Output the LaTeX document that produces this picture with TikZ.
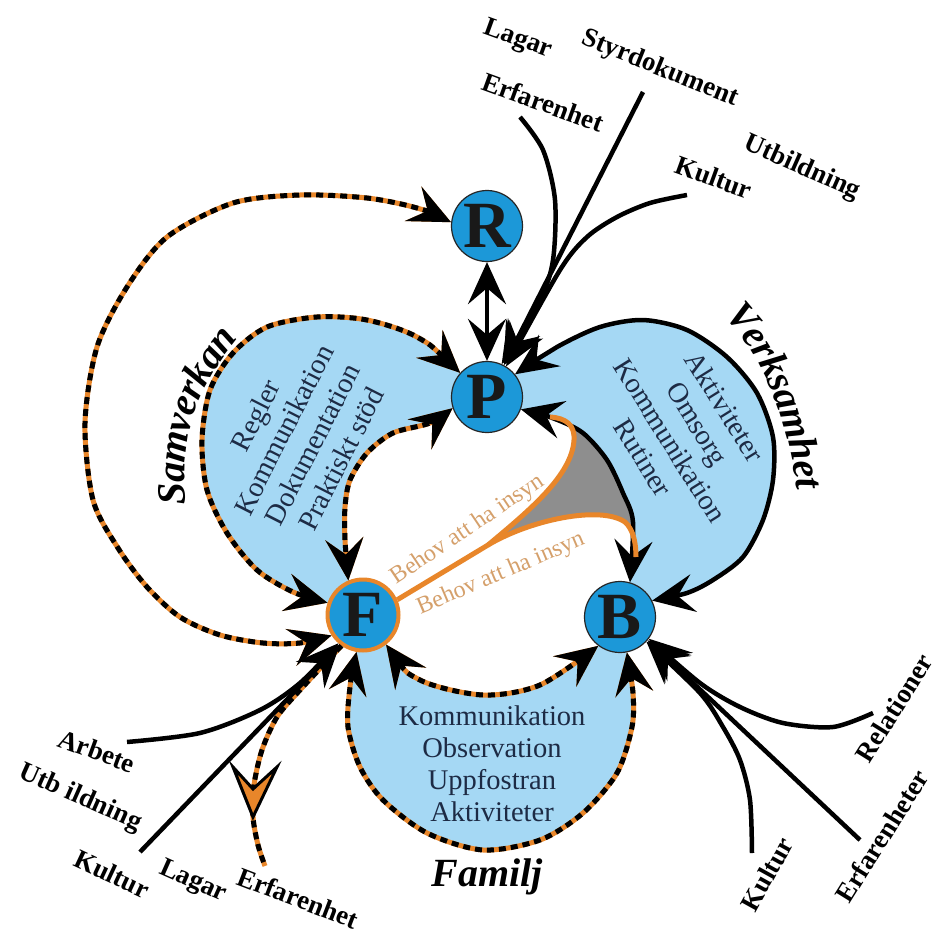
\documentclass[tikz,border=0pt]{standalone}
\usepackage{fontspec}
\setmainfont{Liberation Serif}
\usetikzlibrary{arrows.meta,decorations.text}
\pgfdeclarelayer{bg}
\pgfsetlayers{bg,main}
\definecolor{nodeblue}{HTML}{1C98D8}
\definecolor{blobblue}{HTML}{A5D8F4}
\definecolor{dorange}{HTML}{E8862A}
\definecolor{itemcol}{HTML}{1D2B45}
\definecolor{behovcol}{HTML}{D5A06B}
\definecolor{greyfill}{HTML}{8E8E8E}
\tikzset{
  cnode/.style={circle, draw=black!85, line width=1.2pt, fill=nodeblue, minimum size=71pt, inner sep=0pt,
    font=\bfseries\fontsize{66}{66}\selectfont, text=black!90},
  dconn/.style={draw=black, line width=5pt, dash pattern=on 7pt off 5pt,
    preaction={draw=dorange, line width=5pt, solid}},
  sconn/.style={draw=black, line width=4.5pt},
  behovline/.style={draw=dorange, line width=5pt},
  lab/.style={font=\bfseries\fontsize{27}{27}\selectfont, inner sep=0pt},
  regname/.style={font=\bfseries\itshape\fontsize{40}{40}\selectfont, inner sep=0pt},
  items/.style={font=\fontsize{28.5}{32}\selectfont, align=center, text=itemcol, inner sep=0pt},
  behovtxt/.style={font=\fontsize{24}{24}\selectfont, text=behovcol, inner sep=0pt},
}
\begin{document}
\begin{tikzpicture}[x=1pt,y=-1pt, >={Stealth[length=42pt,width=38pt,inset=16pt]}, line join=round]
\useasboundingbox (0,0) rectangle (938,937);

% circles
\node[cnode] (R) at (487,226) {R};
\node[cnode] (P) at (487,397) {P};
\node[cnode, draw=dorange, line width=4pt] (F) at (363,615) {F};
\node[cnode] (B) at (620,617) {B};

% background and region fills
\begin{pgfonlayer}{bg}
\fill[white] (0,0) rectangle (938,937);
\fill[blobblue] (P.center) -- plot[smooth] coordinates {(P.138) (417,337) (367,320) (317,317) (267,327) (233,353) (210,390) (202,440) (207,490) (227,533) (257,570) (293,592) (F.161)}
  -- (F.center) -- plot[smooth] coordinates {(F.113) (345,540) (345,507) (350,480) (367,453) (393,433) (430,423) (P.198)} -- cycle;
\fill[blobblue] (P.center) -- plot[smooth] coordinates {(P.39) (557,347) (600,327) (643,320) (687,330) (727,357) (757,393) (773,437) (773,480) (763,520) (743,557) (713,580) (687,593) (B.27)}
  -- (B.center) -- plot[smooth] coordinates {(B.74) (633,522) (623,493) (607,460) (583,433) (555,419) (P.-20)} -- cycle;
\fill[blobblue] (F.center) -- plot[smooth] coordinates {(F.-100) (350,687) (348,727) (360,767) (383,800) (427,833) (483,850) (540,840) (583,813) (617,773) (632,727) (633,693) (B.-79)}
  -- (B.center) -- plot[smooth] coordinates {(B.233) (540,685) (483,695) (420,680) (F.-52)} -- cycle;
\end{pgfonlayer}

% grey region
\fill[greyfill] (488,545) .. controls (530,510) and (572,475) .. (574,440)
  .. controls (575,425) and (566,418) .. (555,418)
  -- plot[smooth] coordinates {(558,420) (583,433) (607,460) (623,493) (633,522) (636,553)}
  .. controls (636,545) and (634,530) .. (625,522)
  .. controls (600,505) and (530,520) .. (488,545) -- cycle;

% Verksamhet boundaries
\draw[sconn, <->] plot[smooth] coordinates {(P.-20) (555,419) (583,433) (607,460) (623,493) (633,522) (B.74)};
\draw[sconn, <->] plot[smooth] coordinates {(P.39) (557,347) (600,327) (643,320) (687,330) (727,357) (757,393) (773,437) (773,480) (763,520) (743,557) (713,580) (687,593) (B.27)};

% Behov lines
\coordinate (J) at (488,545);
\draw[behovline] (F.24) -- (J) .. controls (530,510) and (572,475) .. (574,440)
  .. controls (575,425) and (566,418) .. (550,417);
\draw[behovline] (J) .. controls (530,520) and (600,505) .. (625,522)
  .. controls (634,530) and (636,545) .. (636,557);

% Samverkan boundaries
\draw[dconn, <->] plot[smooth] coordinates {(P.138) (417,337) (367,320) (317,317) (267,327) (233,353) (210,390) (202,440) (207,490) (227,533) (257,570) (293,592) (F.161)};
\draw[dconn, <->] plot[smooth] coordinates {(P.198) (430,423) (393,433) (367,453) (350,480) (345,507) (345,540) (F.113)};

% big arc R - F
\draw[dconn, <->] plot[smooth] coordinates {(R.174) (417,208) (367,198) (300,195) (233,203) (167,237) (127,287) (97,347) (85,423) (93,500) (118,548) (147,587) (180,617) (220,635) (263,643) (300,643) (F.213)};

% Familj boundaries
\draw[dconn, <->] plot[smooth] coordinates {(F.-52) (420,680) (483,695) (540,685) (B.233)};
\draw[dconn, <->] plot[smooth] coordinates {(F.-100) (350,687) (348,727) (360,767) (383,800) (427,833) (483,850) (540,840) (583,813) (617,773) (632,727) (633,693) (B.-79)};

% R - P
\draw[sconn, <->] (R.-90) -- (P.90);

% top inputs to P
\coordinate (tErf) at (520,117);
\coordinate (tSty) at (643,92);
\coordinate (tKul) at (687,195);
\draw[sconn, ->] plot[smooth] coordinates {(tErf) (543,150) (555,200) (553,260) (540,300) (P.66)};
\draw[sconn, ->] (tSty) -- (P.62);
\draw[sconn, ->] plot[smooth] coordinates {(tKul) (650,203) (617,217) (587,237) (560,270) (P.58)};

% lower-left inputs to F
\coordinate (lArb) at (127,742);
\coordinate (lKul) at (140,852);
\coordinate (lErfA) at (253,817);
\coordinate (lErf) at (265,866);
\draw[dconn] plot[smooth] coordinates {(F.235) (300,690) (277,717) (262,750) (254,785) (lErfA) (258,845) (lErf)};
\filldraw[fill=dorange, draw=black, line width=3pt, line join=miter] (233,767) -- (253,789) -- (277,767) -- (lErfA) -- cycle;
\draw[sconn, ->] plot[smooth] coordinates {(lArb) (200,733) (260,710) (300,683) (F.229)};
\draw[sconn, ->] (lKul) -- (F.232);

% lower-right inputs to B
\coordinate (rRel) at (873,713);
\coordinate (rErf) at (860,840);
\coordinate (rKul) at (752,853);
\draw[sconn, ->] plot[smooth] coordinates {(rRel) (833,727) (783,723) (740,707) (700,683) (B.-37)};
\draw[sconn, ->] (rErf) -- (B.-40);
\draw[sconn, ->] plot[smooth] coordinates {(rKul) (750,800) (740,760) (723,727) (700,693) (B.-43)};

% labels
\node[lab, rotate=-20] (t1) at (518,40) {Lagar};
\node[lab, rotate=-20] (t2) at (543,102) {Erfarenhet};
\node[lab, rotate=-22] (t3) at (660,69) {Styrdokument};
\node[lab, rotate=-24] (t4) at (802,168) {Utbildning};
\node[lab, rotate=-20] (t5) at (714,177) {Kultur};

\node[lab, rotate=-20] (b1) at (97,751) {Arbete};
\node[lab, rotate=-24] (b2) at (80,798) {Utb ildning};
\node[lab, rotate=-25] (b3) at (112,874) {Kultur};
\node[lab, rotate=-24] (b4) at (193,882) {Lagar};
\node[lab, rotate=-21] (b5) at (298,898) {Erfarenhet};

\node[lab, rotate=61] (c1) at (767,874) {Kultur};
\node[lab, rotate=58] (c2) at (882,836) {Erfarenheter};
\node[lab, rotate=58] (c3) at (894,708) {Relationer};

% curved region names
\coordinate (vS) at (708,288);
\coordinate (vE) at (810,520);
\coordinate (sS) at (179,530);
\coordinate (sE) at (248,313);
\path[decorate, decoration={text along path, text align=center, raise=-9pt,
  text={|\bfseries\itshape\fontsize{40}{40}\selectfont|Verksamhet}}]
  (vS) .. controls (775,345) and (800,420) .. (vE);
\path[decorate, decoration={text along path, text align=center, raise=-9pt,
  text={|\bfseries\itshape\fontsize{40}{40}\selectfont|Samverkan}}]
  (sS) .. controls (168,440) and (182,385) .. (sE);
\node[regname] (nFam) at (487,877) {Familj};

\node[items, rotate=63] (iSam) at (298,437) {Regler\\Kommunikation\\Dokumentation\\Praktiskt stöd};
\node[items, rotate=-58] (iVer) at (684,432) {Aktiviteter\\Omsorg\\Kommunikation\\Rutiner};
\node[items] (iFam) at (492,764) {Kommunikation\\Observation\\Uppfostran\\Aktiviteter};

\node[behovtxt, rotate=34] (h1) at (468,530) {Behov att ha insyn};
\node[behovtxt, rotate=23] (h2) at (501,574) {Behov att ha insyn};
\end{tikzpicture}
\end{document}
